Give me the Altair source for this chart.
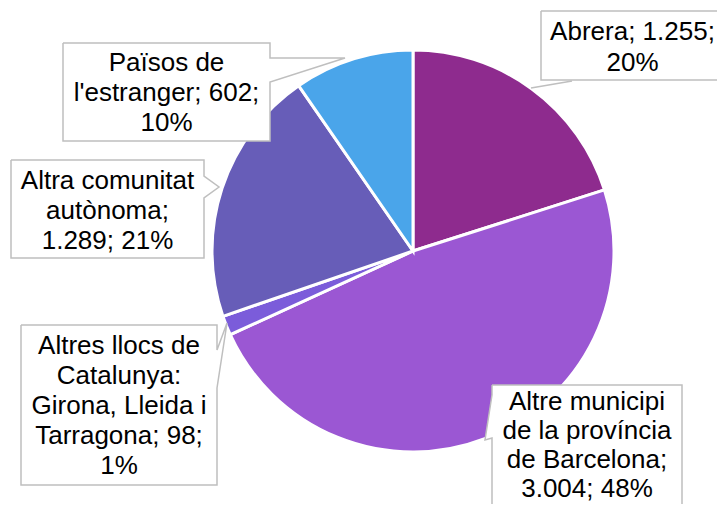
import altair as alt
import pandas as pd

# ---- data ----
categories = [
    "Abrera",
    "Altre municipi de la província de Barcelona",
    "Altres llocs de Catalunya: Girona, Lleida i Tarragona",
    "Altra comunitat autònoma",
    "Països de l'estranger",
]
values = [1255, 3004, 98, 1289, 602]
colors = ["#8E2B8E", "#9B57D3", "#7B5CDA", "#675DB8", "#4AA5EA"]

label_lines = [
    ["Abrera; 1.255;", "20%"],
    ["Altre municipi", "de la província", "de Barcelona;", "3.004; 48%"],
    ["Altres llocs de", "Catalunya:", "Girona, Lleida i", "Tarragona; 98;", "1%"],
    ["Altra comunitat", "autònoma;", "1.289; 21%"],
    ["Països de", "l'estranger; 602;", "10%"],
]

# ---- layout (page pixel coordinates) ----
W, H, OFF = 709, 496, 8
PIE_CX, PIE_CY, PIE_R = 413, 251, 201
label_center_x = [632.5, 587, 119, 107.5, 166.5]
label_first_baseline = [40, 410, 353.5, 189, 71]
line_step = [31, 29, 30, 30, 30]

callouts = [
    [(541, 11), (726, 11), (726, 80), (541, 80)],
    [(492, 385), (682, 385), (682, 520), (492, 520), (492, 438), (485, 440), (492, 395)],
    [(21, 325), (217, 325), (217, 350), (227, 323), (217, 388), (217, 485), (21, 485)],
    [(11, 160), (204, 160), (204, 176), (219, 187), (204, 198), (204, 258), (11, 258)],
    [(63, 43), (270, 43), (270, 58), (345, 58), (270, 82), (270, 141), (63, 141)],
]
leader = [(572, 81), (531, 88)]

# ---- tables ----
pie_df = pd.DataFrame({"cat": categories, "value": values, "idx": list(range(len(values)))})

poly_rows = []
for cid, pts in enumerate(callouts):
    closed = pts + [pts[0]]
    for k, (px, py) in enumerate(closed):
        poly_rows.append({"cid": cid, "k": k, "px": px, "py": py})
poly_df = pd.DataFrame(poly_rows)

leader_df = pd.DataFrame({"k": [0, 1], "px": [p[0] for p in leader], "py": [p[1] for p in leader]})

text_rows = []
for i, lines in enumerate(label_lines):
    for j, t in enumerate(lines):
        text_rows.append({"t": t, "px": label_center_x[i], "py": label_first_baseline[i] + j * line_step[i]})
text_df = pd.DataFrame(text_rows)

xs = alt.Scale(domain=[OFF, OFF + W])
ys = alt.Scale(domain=[OFF + H, OFF])

pie = alt.Chart(pie_df).mark_arc(outerRadius=PIE_R, stroke="white", strokeWidth=3).encode(
    theta=alt.Theta("value:Q", stack=True),
    color=alt.Color("cat:N", scale=alt.Scale(domain=categories, range=colors), legend=None),
    order=alt.Order("idx:Q"),
    x=alt.value(PIE_CX - OFF),
    y=alt.value(PIE_CY - OFF),
)

boxes = alt.Chart(poly_df).mark_line(fill="white", stroke="#BFBFBF", strokeWidth=1.5).encode(
    x=alt.X("px:Q", scale=xs, axis=None),
    y=alt.Y("py:Q", scale=ys, axis=None),
    order=alt.Order("k:Q"),
    detail="cid:N",
)

lead = alt.Chart(leader_df).mark_line(stroke="#BFBFBF", strokeWidth=1.5).encode(
    x=alt.X("px:Q", scale=xs, axis=None),
    y=alt.Y("py:Q", scale=ys, axis=None),
    order=alt.Order("k:Q"),
)

texts = alt.Chart(text_df).mark_text(
    font="Liberation Sans", fontSize=26, color="#000000", align="center", baseline="alphabetic"
).encode(
    x=alt.X("px:Q", scale=xs, axis=None),
    y=alt.Y("py:Q", scale=ys, axis=None),
    text="t:N",
)

chart = alt.layer(pie, boxes, lead, texts).properties(
    width=W, height=H, autosize=alt.AutoSizeParams(type="none"), padding=0
).configure_view(stroke=None)

chart.save("out.html", embed_options={"renderer": "svg", "actions": False})
